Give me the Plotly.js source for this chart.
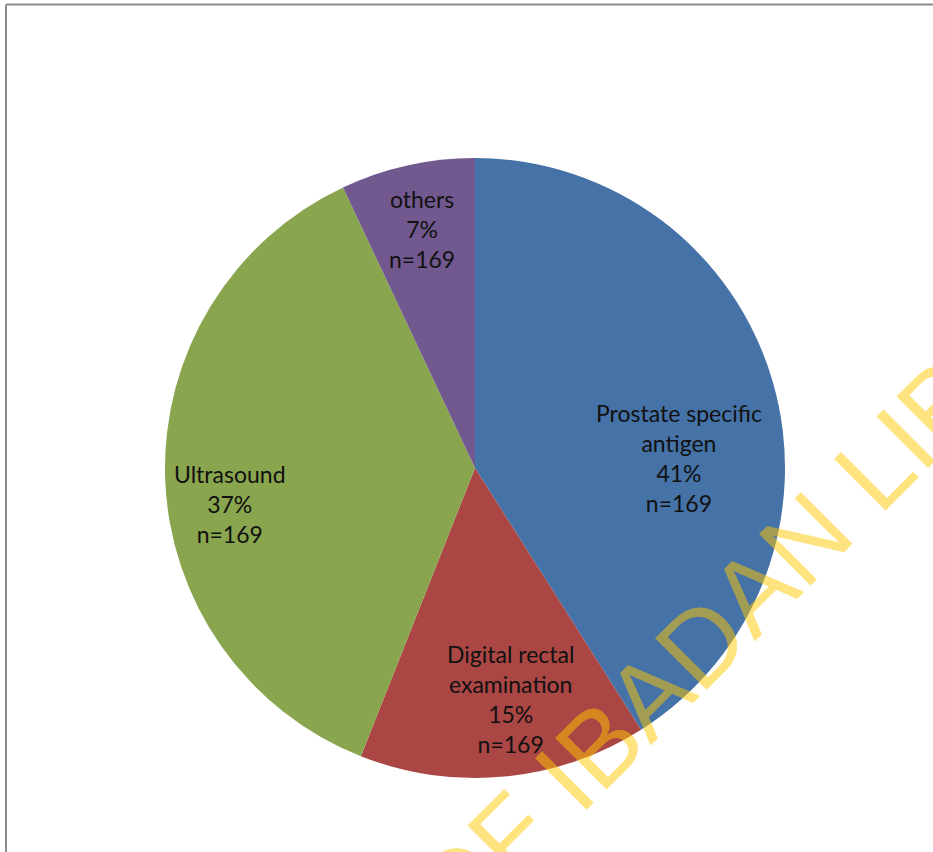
<!DOCTYPE html>
<html>
<head>
<meta charset="utf-8">
<script src="https://cdn.plot.ly/plotly-3.0.1.min.js"></script>
<style>html,body{margin:0;padding:0;background:#fff;}#chart{width:933px;height:852px;}</style>
</head>
<body>
<div id="chart"></div>
<script>
// Data
const categories = ["Prostate specific<br>antigen", "Digital rectal<br>examination", "Ultrasound", "others"];
const percents = [41, 15, 37, 7];
const sampleSizes = [169, 169, 169, 169];
const colors = ["#4572A7", "#AA4643", "#89A54E", "#71588F"];
const watermark = "UNIVERSITY OF IBADAN LIBRARY";

// Label placement style (Excel "best fit"-like): radial fraction and angular nudge per slice
const labelRadius = [0.66, 0.755, 0.80, 0.79];
const labelAngleShift = [13.4, -3.4, -6.5, 0];

const W = 933, H = 852;
const cx = 475, cy = 468, R = 310;

const trace = {
  type: "pie",
  labels: categories,
  values: percents,
  textinfo: "none",
  sort: false,
  direction: "clockwise",
  rotation: 0,
  marker: {colors: colors, line: {width: 0}},
  hoverinfo: "none",
  domain: {x: [(cx - R) / W, (cx + R) / W], y: [1 - (cy + R) / H, 1 - (cy - R) / H]},
  showlegend: false
};

// Data labels computed from the slice angles
const total = percents.reduce((a, b) => a + b, 0);
let cum = 0;
const labelAnns = percents.map((v, i) => {
  const mid = (cum + v / 2) / total * 360 + labelAngleShift[i];
  cum += v;
  const a = mid * Math.PI / 180;
  const px = cx + labelRadius[i] * R * Math.sin(a);
  const py = cy - labelRadius[i] * R * Math.cos(a);
  return {
    xref: "paper", yref: "paper", x: px / W, y: 1 - py / H,
    xanchor: "center", yanchor: "middle", showarrow: false,
    text: `${categories[i]}<br>${percents[i]}%<br>n=${sampleSizes[i]}`,
    align: "center",
    font: {family: "Lato, 'Open Sans', sans-serif", size: 23, color: "#111111"}
  };
});

const layout = {
  width: W, height: H,
  margin: {l: 0, r: 0, t: 0, b: 0},
  paper_bgcolor: "#ffffff",
  showlegend: false,
  shapes: [
    {type: "line", xref: "paper", yref: "paper", x0: 6 / W, x1: 1.05, y0: 1 - 4.5 / H, y1: 1 - 4.5 / H, line: {color: "#8c8c8c", width: 2}},
    {type: "line", xref: "paper", yref: "paper", x0: 6 / W, x1: 6 / W, y0: -0.05, y1: 1 - 4.5 / H, line: {color: "#8c8c8c", width: 2}}
  ],
  annotations: labelAnns.concat([
    {xref: "paper", yref: "paper", x: 566 / W, y: 1 - 778 / H, xanchor: "center", yanchor: "middle",
     text: watermark, textangle: -45, showarrow: false,
     font: {family: "'Liberation Sans', Arial, sans-serif", size: 106, color: "rgba(255,200,0,0.5)"}}
  ])
};

Plotly.newPlot("chart", [trace], layout, {staticPlot: true, displayModeBar: false});
</script>
</body>
</html>
